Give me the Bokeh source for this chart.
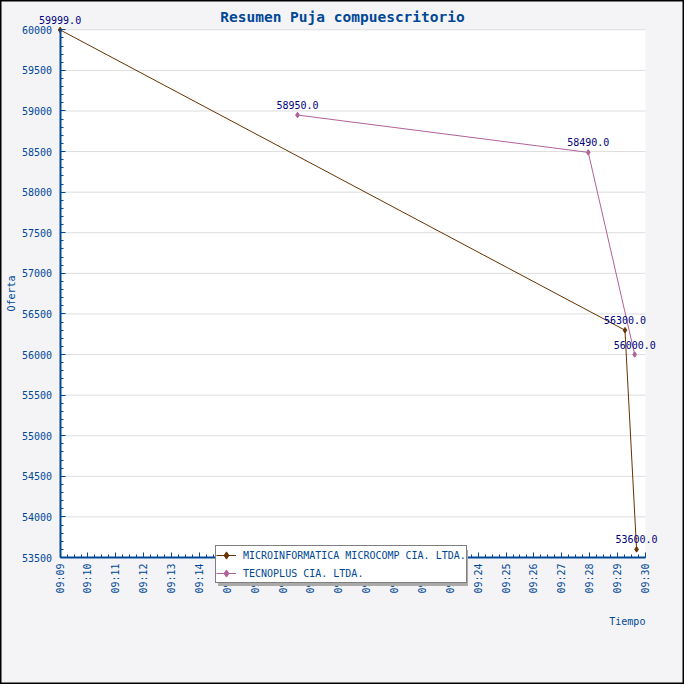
import math
from datetime import datetime
from bokeh.plotting import figure
from bokeh.core.properties import value
from bokeh.models import (ColumnDataSource, FixedTicker, DatetimeTickFormatter, Range1d,
                          LabelSet, Label, BoxAnnotation, Legend, DatetimeAxis, LinearAxis)
from bokeh.embed import file_html
from bokeh.resources import INLINE

# ---- data ----
series_names = ["MICROINFORMATICA MICROCOMP CIA. LTDA.", "TECNOPLUS CIA. LTDA."]
micro_times = ["09:09:00", "09:29:16", "09:29:41"]
micro_values = [59999.0, 56300.0, 53600.0]
tecno_times = ["09:17:31", "09:27:57", "09:29:37"]
tecno_values = [58950.0, 58490.0, 56000.0]
x_tick_labels = ["09:%02d" % m for m in range(9, 31)]
y_ticks = list(range(53500, 60001, 500))
y_minor = list(range(53500, 60001, 100))
title_text = "Resumen Puja compuescritorio"
x_title = "Tiempo"
y_title = "Oferta"

DAY = "2012-01-01 "
def to_dt(s):
    return datetime.strptime(DAY + s, "%Y-%m-%d %H:%M:%S")
def to_ms(d):
    return (d - datetime(1970, 1, 1)).total_seconds() * 1000.0

BLUE = "#004896"
NAVY = "#000080"
BROWN = "#663300"
PURPLE = "#b0619a"
FONT = "DejaVu Sans Mono"

# ---- layout (canvas pixels) ----
W = H = 684
FL, FR, FT, FB = 59.6, 644.9, 29.3, 557.0   # plot area edges on the canvas

x0 = to_ms(to_dt("09:09:00"))
x1 = to_ms(to_dt("09:30:00"))
y0, y1 = 53500.0, 60000.0
msp = (x1 - x0) / (FR - FL)
vpp = (y1 - y0) / (FB - FT)
x_lo = x0 - FL * msp
x_hi = x1 + (W - FR) * msp
y_hi = y1 + FT * vpp
y_lo = y0 - (H - FB) * vpp
def px2x(px):
    return x_lo + px * msp
def px2y(py):
    return y_hi - py * vpp

p = figure(width=W, height=H, x_axis_type="datetime", output_backend="svg",
           toolbar_location=None, x_axis_location=None, y_axis_location=None,
           x_range=Range1d(x_lo, x_hi), y_range=Range1d(y_lo, y_hi),
           min_border=0)
p.title.visible = False
p.background_fill_color = "#f4f4f6"
p.border_fill_color = "#f4f4f6"
p.outline_line_color = "#000000"
p.outline_line_width = 2
p.xgrid.visible = False
p.ygrid.visible = False

# white plotting area
p.add_layout(BoxAnnotation(left=x0, right=x1, bottom=y0, top=y1, fill_color="#ffffff",
                           fill_alpha=1.0, line_color=None, level="underlay"))

# horizontal grid lines at the y ticks
p.segment(x0=[x0] * len(y_ticks), x1=[x1] * len(y_ticks), y0=y_ticks, y1=y_ticks,
          line_color="#dddddd", line_width=1)

# axes at fixed locations
maj_x = [to_ms(to_dt(t + ":00")) for t in x_tick_labels]
min_x = [maj_x[0] + i * 15000 for i in range(0, 21 * 4 + 1)]
fmt = "%H:%M"
xaxis = DatetimeAxis(fixed_location=y0, bounds=(x0, x1),
                     ticker=FixedTicker(ticks=maj_x, minor_ticks=min_x),
                     formatter=DatetimeTickFormatter(milliseconds=fmt, seconds=fmt, minsec=fmt,
                                                     minutes=fmt, hourmin=fmt, hours=fmt,
                                                     days=fmt, months=fmt, years=fmt))
xaxis.major_label_orientation = math.pi / 2
yaxis = LinearAxis(fixed_location=x0, bounds=(y0, y1),
                   ticker=FixedTicker(ticks=y_ticks, minor_ticks=y_minor))
for ax in (xaxis, yaxis):
    ax.axis_line_color = BLUE
    ax.axis_line_width = 2
    ax.major_tick_line_color = BLUE
    ax.minor_tick_line_color = BLUE
    ax.major_tick_in = 5
    ax.major_tick_out = 0
    ax.minor_tick_in = 3
    ax.minor_tick_out = 0
    ax.major_label_text_font = FONT
    ax.major_label_text_font_size = "10px"
    ax.major_label_text_color = BLUE
    ax.major_label_standoff = 6
yaxis.major_label_standoff = 8
yaxis.axis_label = y_title
yaxis.axis_label_text_font = FONT
yaxis.axis_label_text_font_size = "10px"
yaxis.axis_label_text_font_style = "normal"
yaxis.axis_label_text_color = BLUE
yaxis.axis_label_standoff = 2
p.add_layout(xaxis, "below")
p.add_layout(yaxis, "left")

# data
src_m = ColumnDataSource(dict(x=[to_ms(to_dt(t)) for t in micro_times], y=micro_values,
                              lab=["%.1f" % v for v in micro_values]))
src_t = ColumnDataSource(dict(x=[to_ms(to_dt(t)) for t in tecno_times], y=tecno_values,
                              lab=["%.1f" % v for v in tecno_values]))

lm = p.line("x", "y", source=src_m, line_color=BROWN, line_width=1)
sm = p.scatter("x", "y", source=src_m, marker="diamond", size=5.5, color=BROWN)
lt = p.line("x", "y", source=src_t, line_color=PURPLE, line_width=1)
st = p.scatter("x", "y", source=src_t, marker="diamond", size=5.5, color=PURPLE)

for src in (src_m, src_t):
    p.add_layout(LabelSet(x="x", y="y", text="lab", source=src, text_align="center",
                          text_baseline="alphabetic", y_offset=6, text_font=value(FONT),
                          text_font_size=value("10px"), text_color=NAVY))

# titles
p.add_layout(Label(x=px2x(W / 2), y=px2y(16.8), text=title_text, text_align="center",
                   text_baseline="alphabetic", text_font=FONT, text_font_size="14.5px",
                   text_font_style="bold", text_color=BLUE))
p.add_layout(Label(x=x1, y=px2y(620.5), text=x_title, text_align="right",
                   text_baseline="alphabetic", text_font=FONT, text_font_size="10px",
                   text_color=BLUE))

# legends (shadow legend first, then real one)
LEG_X, LEG_BOTTOM = 215, 583.4
def style_legend(lg):
    lg.label_text_font = FONT
    lg.label_text_font_size = "10px"
    lg.padding = 0
    lg.spacing = 0
    lg.margin = 0
    lg.label_height = 18
    lg.glyph_height = 18
    lg.glyph_width = 20
    lg.label_standoff = 7
    lg.background_fill_alpha = 1.0

dummy1 = p.line(x=[], y=[], line_alpha=0)
dummy2 = p.line(x=[], y=[], line_alpha=0)
shadow = Legend(items=[(series_names[0], [dummy1]), (series_names[1], [dummy2])],
                location=(LEG_X + 3, H - LEG_BOTTOM - 3))
style_legend(shadow)
shadow.label_text_alpha = 0
shadow.border_line_color = None
shadow.background_fill_color = "#aaaaaa"
p.add_layout(shadow, "center")

legend = Legend(items=[(series_names[0], [lm, sm]), (series_names[1], [lt, st])],
                location=(LEG_X, H - LEG_BOTTOM))
style_legend(legend)
legend.label_text_color = BLUE
legend.border_line_color = "#000000"
legend.border_line_width = 1
legend.background_fill_color = "#ffffff"
p.add_layout(legend, "center")

open("out.html", "w").write(file_html(p, INLINE))
